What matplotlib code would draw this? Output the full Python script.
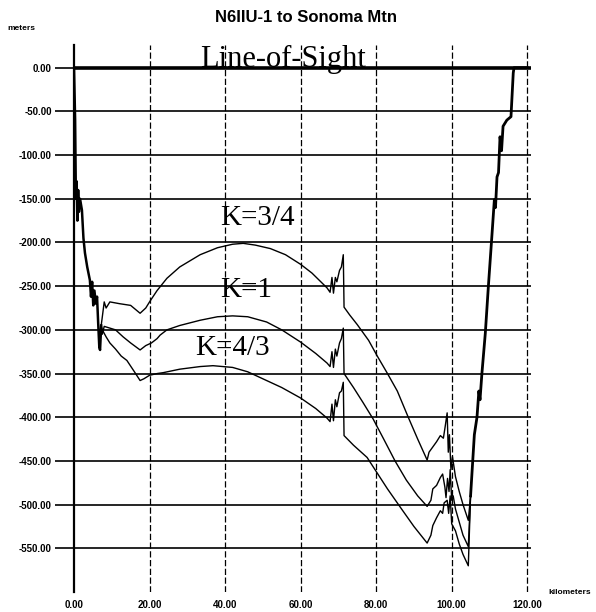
import matplotlib
matplotlib.use("Agg")
import matplotlib.pyplot as plt

# shared terrain near the N6IIU-1 end (km, meters)
km_start = [0.0, 0.3, 0.5, 0.7, 0.9, 1.1, 1.3, 1.6, 2.1, 2.5, 2.9, 3.5, 4.2, 4.5, 4.8, 5.1, 5.4, 5.8, 6.1, 6.4, 6.7, 6.9, 7.2]
elev_start = [0, -60, -150, -130, -175, -140, -165, -150, -163, -195, -212, -228, -243, -262, -245, -272, -255, -270, -262, -292, -320, -323, -295]

# K=3/4 profile
km_k34 = [7.5, 8.0, 8.5, 9.5, 12, 15, 17.5, 19, 20, 22, 24.6, 28, 33.4, 38, 42, 44.8, 48, 52, 56, 60, 63, 67, 67.8,
          68.3, 68.7, 69.2, 69.6, 70.3, 70.8, 71.3, 71.5, 73, 75, 78, 80.3, 83, 85.6, 88.5, 91, 93.5, 94, 95, 96, 97,
          97.8, 98.3, 98.8, 99.1, 99.4, 99.8, 100.2, 101, 102, 103, 104.4]
elev_k34 = [-285, -268, -275, -268, -270, -272, -281, -275, -268, -255, -241, -228, -214, -206, -202, -201, -203, -207, -214, -225, -235, -252, -257,
            -240, -258, -240, -245, -232, -228, -214, -274, -283, -294, -312, -330, -350, -370, -400, -425, -449, -440, -434, -428, -421,
            -424, -410, -395, -440, -420, -460, -445, -468, -485, -500, -518]

# K=1 profile
km_k1 = [7.5, 8.0, 9.5, 11, 13, 15, 17.5, 19, 20.5, 22, 22.8, 24.6, 28, 33.4, 38, 42, 46, 51, 55, 60, 64, 67, 67.8,
         68.3, 68.7, 69.2, 69.6, 70.3, 70.8, 71.3, 71.5, 74, 76.5, 79.2, 82, 85, 88, 91, 93.5, 94.5, 95, 96, 97,
         97.6, 98.2, 98.5, 98.9, 99.3, 99.6, 100, 100.4, 101, 102, 103, 104.4]
elev_k1 = [-305, -296, -298, -300, -308, -315, -323, -318, -315, -310, -306, -300, -295, -289, -285, -284, -285, -291, -300, -314, -327, -338, -342,
           -325, -343, -322, -330, -315, -310, -298, -350, -366, -383, -402, -425, -450, -472, -490, -502, -495, -482, -478, -469,
           -465, -480, -492, -470, -485, -460, -495, -490, -505, -520, -535, -548]

# K=4/3 profile
km_k43 = [7.5, 8.5, 9.5, 11, 12.5, 14, 16, 17.5, 18.5, 20, 22, 23.6, 28, 33.4, 36.8, 42, 46, 51, 55, 60, 64, 67, 67.8,
          68.3, 68.7, 69.2, 69.6, 70.3, 70.8, 71.3, 71.5, 74, 77.6, 80, 83, 86.4, 90, 93.5, 94.5, 95, 96, 97,
          97.6, 98, 98.8, 99.2, 99.6, 100, 101, 102, 103, 104.4]
elev_k43 = [-300, -308, -315, -322, -330, -335, -348, -358, -356, -352, -350, -349, -345, -342, -341, -343, -348, -358, -366, -378, -390, -401, -405,
            -385, -404, -380, -388, -372, -370, -360, -421, -432, -446, -462, -482, -503, -525, -544, -535, -524, -515, -507,
            -510, -498, -495, -510, -490, -522, -530, -545, -557, -570]

# shared climb up to Sonoma Mtn
km_rise = [105.0, 105.5, 106.0, 106.7, 107.2, 107.5, 108.0, 108.9, 109.7, 110.7, 111.3, 111.6, 112.0, 112.4, 112.8, 113.2,
           113.6, 114.6, 115.7, 116.3, 116.5, 120.0]
elev_rise = [-490, -455, -420, -400, -370, -380, -350, -304, -251, -189, -151, -160, -125, -120, -79, -95,
             -67, -60, -56, -6, 0, 0]

y_ticks = [0, -50, -100, -150, -200, -250, -300, -350, -400, -450, -500, -550]
x_ticks = [0, 20, 40, 60, 80, 100, 120]

fig = plt.figure(figsize=(5.96, 6.12), dpi=100)
ax = fig.add_axes([74 / 596, 1 - 592 / 612, 457 / 596, 547 / 612])
ax.set_xlim(0, 121)
ax.set_ylim(-600, 26)

# grid
for yv in y_ticks[1:]:
    ax.axhline(yv, color="black", lw=1.2, zorder=1)
for xv in x_ticks[1:]:
    ax.axvline(xv, color="black", lw=0.9, linestyle=(0, (5, 2)), zorder=1)

# line of sight
ax.axhline(0, color="black", lw=2.6, zorder=3)

# terrain profiles
for km_k, elev_k in [(km_k34, elev_k34), (km_k1, elev_k1), (km_k43, elev_k43)]:
    xs = km_start[-1:] + km_k + km_rise[:1]
    ys = elev_start[-1:] + elev_k + elev_rise[:1]
    ax.plot(xs, ys, color="black", lw=1.0, zorder=2)
# overlapping ends drawn heavier, as in the scan
ax.plot(km_start, elev_start, color="black", lw=1.8, zorder=2)
ax.plot(km_rise, elev_rise, color="black", lw=2.0, zorder=2)

for s in ["top", "right", "bottom"]:
    ax.spines[s].set_visible(False)
ax.spines["left"].set_linewidth(1.6)

ax.set_yticks(y_ticks)
ax.set_yticklabels(["%.2f" % v if v == 0 else "-%.2f" % abs(v) for v in y_ticks],
                   fontsize=7, fontweight="bold", family="Liberation Sans")
ax.tick_params(axis="y", length=14, width=1.2, pad=2)
ax.set_xticks(x_ticks)
ax.set_xticklabels(["%.2f" % v for v in x_ticks], fontsize=7, fontweight="bold", family="Liberation Sans")
ax.tick_params(axis="x", length=0, pad=6)

# annotations
ax.text(33.4, 1, "Line-of-Sight", fontsize=22, family="Liberation Serif", va="baseline", ha="left", zorder=4)
ax.text(38.7, -172, "K=3/4", fontsize=21, family="Liberation Serif", va="center", ha="left")
ax.text(38.7, -254, "K=1", fontsize=21, family="Liberation Serif", va="center", ha="left")
ax.text(32.0, -321, "K=4/3", fontsize=21, family="Liberation Serif", va="center", ha="left")

fig.text(306 / 596, 1 - 17 / 612, "N6IIU-1 to Sonoma Mtn", fontsize=12, fontweight="bold",
         family="Liberation Sans", ha="center", va="center")
fig.text(7 / 596, 1 - 29 / 612, "meters", fontsize=6, fontweight="bold", family="Liberation Sans",
         ha="left", va="center")
fig.text(548 / 596, 1 - 592 / 612, "kilometers", fontsize=6, fontweight="bold", family="Liberation Sans",
         ha="left", va="center")

fig.savefig("out.png", dpi=100, facecolor="white")
